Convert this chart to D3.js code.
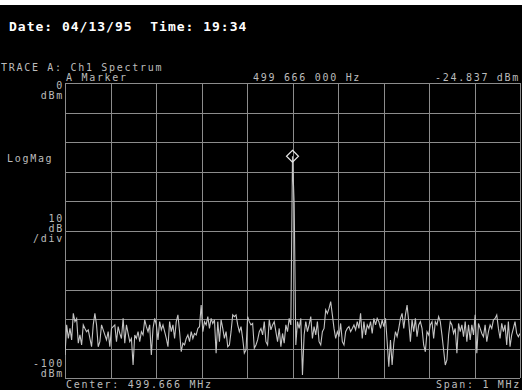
<!DOCTYPE html>
<html>
<head>
<meta charset="utf-8">
<script src="https://cdn.jsdelivr.net/npm/d3@7"></script>
<style>
  html, body { margin: 0; padding: 0; background: #000; }
  svg { display: block; }
  text { font-family: "DejaVu Sans Mono", "Liberation Mono", monospace; white-space: pre; }
</style>
</head>
<body>
<svg id="chart" width="522" height="390"></svg>
<script>
// Sweep settings
const centerMHz = 499.666;
const spanMHz = 1;
const refLevel = 0;       // dBm, top graticule line
const dbPerDiv = 10;
const divisions = 10;

// Marker readout
const markerFreqLabel = "499 666 000 Hz";
const markerLevel = -24.837;

// Trace A: measured levels (dBm), one per sweep point, left to right
const levels = [
  -92.2, -82.0, -86.6, -83.2, -87.1, -78.1, -80.9, -79.8, -88.2, -85.4,
  -88.8, -82.0, -83.2, -84.3, -83.7, -86.6, -89.4, -82.0, -78.1, -82.0,
  -89.4, -87.7, -82.0, -83.7, -85.4, -87.1, -84.3, -89.4, -83.2, -82.6,
  -82.0, -87.7, -82.6, -84.9, -86.6, -79.8, -88.2, -82.0, -84.9, -87.7,
  -86.6, -95.6, -85.4, -86.6, -84.3, -87.7, -84.3, -85.4, -80.3, -82.6,
  -84.3, -82.0, -92.2, -83.2, -79.8, -82.0, -87.1, -80.9, -83.7, -82.0,
  -84.3, -86.6, -89.4, -80.9, -84.3, -82.0, -86.6, -80.9, -78.6, -84.3,
  -91.1, -88.2, -88.8, -86.6, -85.4, -87.7, -84.3, -86.6, -84.9, -85.4,
  -83.2, -82.6, -75.3, -84.3, -80.9, -82.0, -79.2, -83.2, -79.8, -81.5,
  -80.3, -91.6,
  -80.9, -87.7, -80.3, -83.2, -86.6, -84.3, -89.4, -88.8, -84.3, -78.6,
  -79.2, -78.6, -82.0, -84.3, -82.6, -86.6, -91.6, -90.5, -79.2, -80.9,
  -82.0, -81.5, -89.9, -88.8, -87.1, -84.3, -83.2, -85.4, -80.9, -87.7,
  -88.8, -80.3, -83.7, -82.0, -80.9, -84.3, -87.7, -83.2, -89.4, -84.9,
  -88.2, -82.0, -84.3, -79.8, -82.0,
  -24.837, -41.0,
  -88.8, -80.9, -83.2, -79.8, -99.0, -85.4, -80.9, -84.3, -82.0, -79.2,
  -86.6, -82.6, -85.4, -80.9, -87.7, -88.8, -84.3, -83.2, -76.9, -78.1,
  -76.4, -74.1, -78.6, -83.2, -86.6, -84.3, -86.0, -81.5, -87.7, -88.8,
  -84.3, -83.2, -82.6, -84.3, -83.2, -82.0, -83.7, -80.9, -83.2, -78.1,
  -86.6, -80.9, -85.4, -82.0, -83.2,
  -80.9, -84.9, -79.8, -82.0, -79.8, -80.9, -83.2, -80.3, -82.6, -79.8,
  -87.7, -96.2, -87.1, -95.6, -88.2, -84.3, -86.0, -83.2, -79.8, -78.1,
  -83.2, -78.6, -75.3, -80.9, -87.7, -80.3, -84.3, -79.8, -86.0, -82.0,
  -80.9, -83.2, -88.8, -91.1, -84.3, -85.4, -82.0, -80.9, -86.6, -80.9,
  -82.0, -79.2, -80.9, -85.4, -90.5, -95.6, -93.9, -85.4, -80.9, -82.0,
  -84.9, -83.2, -91.6, -81.5, -84.3, -82.0, -86.0, -80.9, -87.7, -82.0,
  -87.1, -82.0, -85.4, -78.6, -91.6, -81.5, -83.2, -84.9, -86.0, -82.0,
  -87.7, -84.3, -82.0, -83.2, -80.3, -79.8, -78.6, -83.2, -86.6, -81.5,
  -84.3, -82.0, -88.8, -80.9, -89.4, -85.4, -83.2, -80.9, -84.9, -86.0,
  -84.9
];

// Annotation texts
const headerText = "Date: 04/13/95  Time: 19:34";
const traceTitle = "TRACE A: Ch1 Spectrum";
const markerTitle = "A Marker";
const topRefLabels = ["0", "dBm"];
const formatLabel = "LogMag";
const scaleLabels = ["10", "dB", "/div"];
const bottomRefLabels = ["-100", "dBm"];
const centerLabel = "Center: 499.666 MHz";
const spanLabel = "Span: 1 MHz";

const svg = d3.select("#chart");
const W = 522, H = 390;
const plot = { left: 65, right: 520, top: 83, bottom: 378 };

const startMHz = centerMHz - spanMHz / 2;
const stopMHz = centerMHz + spanMHz / 2;
const bottomLevel = refLevel - dbPerDiv * divisions;

const x = d3.scaleLinear().domain([startMHz, stopMHz]).range([plot.left, plot.right]);
const y = d3.scaleLinear().domain([bottomLevel, refLevel]).range([plot.bottom, plot.top]);

const nPts = levels.length;
const trace = levels.map((v, i) => ({ f: startMHz + spanMHz * i / (nPts - 1), v }));

// Screen background and the strip along the top edge
svg.append("rect").attr("width", W).attr("height", H).attr("fill", "#000");
svg.append("rect").attr("width", W).attr("height", 5).attr("fill", "#fff");

// Graticule: 10 x 10 divisions
const xTicks = d3.range(divisions + 1).map(i => startMHz + spanMHz * i / divisions);
const yTicks = d3.range(divisions + 1).map(i => bottomLevel + dbPerDiv * i);

const gx = svg.append("g")
  .attr("transform", `translate(0,${plot.bottom})`)
  .call(d3.axisBottom(x).tickValues(xTicks).tickSize(-(plot.bottom - plot.top)).tickFormat(""));
const gy = svg.append("g")
  .attr("transform", `translate(${plot.left},0)`)
  .call(d3.axisLeft(y).tickValues(yTicks).tickSize(-(plot.right - plot.left)).tickFormat(""));
[gx, gy].forEach(g => {
  g.select(".domain").remove();
  g.selectAll(".tick line").attr("stroke", "#8c8c8c").attr("stroke-width", 1).attr("shape-rendering", "crispEdges");
});

// Trace
svg.append("clipPath").attr("id", "plotClip").append("rect")
  .attr("x", plot.left).attr("y", plot.top)
  .attr("width", plot.right - plot.left).attr("height", plot.bottom - plot.top);

svg.append("path")
  .datum(trace)
  .attr("clip-path", "url(#plotClip)")
  .attr("fill", "none")
  .attr("stroke", "#c4c4c4")
  .attr("stroke-width", 1.1)
  .attr("d", d3.line().x(d => x(d.f)).y(d => y(d.v)));

// Marker diamond on the peak
const peak = trace.find(d => d.v === markerLevel);
const mx = x(peak.f), my = y(peak.v), r = 6;
svg.append("path")
  .attr("d", `M${mx},${my - r}L${mx + r},${my}L${mx},${my + r}L${mx - r},${my}Z`)
  .attr("fill", "none")
  .attr("stroke", "#e6e6e6")
  .attr("stroke-width", 1.2);

// Text
const gray = "#bcbcbc";
function label(txt, px, py, anchor, opts = {}) {
  return svg.append("text")
    .attr("x", px).attr("y", py)
    .attr("text-anchor", anchor || "start")
    .attr("fill", opts.fill || gray)
    .attr("font-size", opts.size || 10)
    .attr("font-weight", opts.weight || "normal")
    .attr("letter-spacing", opts.ls != null ? opts.ls : 1.7)
    .text(txt);
}

label(headerText, 9, 31, "start", { fill: "#fff", size: 13, weight: "bold", ls: 1 });
label(traceTitle, 1, 71);
label(markerTitle, 66, 81);
label(markerFreqLabel, 253, 81);
label(`${markerLevel.toFixed(3)} dBm`, 520, 81, "end");

label(topRefLabels[0], 64, 89, "end");
label(topRefLabels[1], 64, 99, "end");
label(formatLabel, 7, 162);
label(scaleLabels[0], 64, 222, "end");
label(scaleLabels[1], 64, 232, "end");
label(scaleLabels[2], 64, 242, "end");
label(bottomRefLabels[0], 64, 367, "end");
label(bottomRefLabels[1], 64, 377, "end");
label(centerLabel, 66, 388);
label(spanLabel, 521, 388, "end");
</script>
</body>
</html>
